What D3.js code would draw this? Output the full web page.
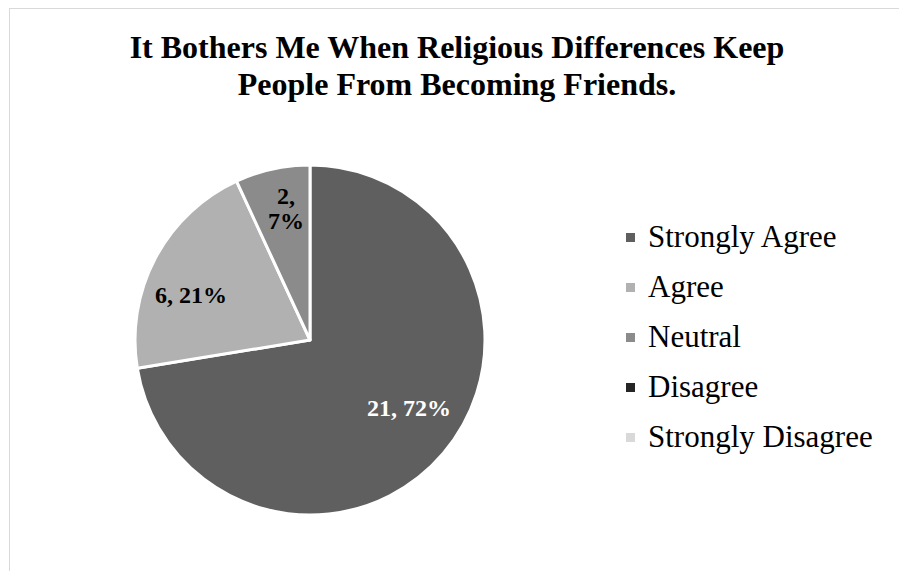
<!DOCTYPE html>
<html><head><meta charset="utf-8">
<script src="https://cdn.jsdelivr.net/npm/d3@7"></script>
<style>body{margin:0;background:#fff}svg{display:block}</style>
</head><body>
<script>
const categories = ["Strongly Agree","Agree","Neutral","Disagree","Strongly Disagree"];
const values = [21, 6, 2, 0, 0];
const colors = ["#5f5f5f","#b1b1b1","#8b8b8b","#262626","#d9d9d9"];
const titleLines = ["It Bothers Me When Religious Differences Keep","People From Becoming Friends."];

const W = 899, H = 571;
const svg = d3.select("body").append("svg").attr("width", W).attr("height", H);
svg.append("rect").attr("x", 9.5).attr("y", 8.5).attr("width", 900).attr("height", 600)
  .attr("fill", "#fff").attr("stroke", "#d9d9d9").attr("stroke-width", 1);

const font = "'Liberation Serif','Times New Roman',serif";
svg.append("g").selectAll("text").data(titleLines).join("text")
  .attr("x", 457).attr("y", (d,i) => 58 + i*37)
  .attr("text-anchor", "middle").attr("font-family", font).attr("font-weight", "bold")
  .attr("font-size", 32).attr("fill", "#000").text(d => d);

const cx = 310, cy = 340, r = 175;
const total = d3.sum(values);
const pie = d3.pie().sort(null).value(d => d.v);
const arcs = pie(categories.map((c,i) => ({c, v: values[i], col: colors[i]})));
const arc = d3.arc().innerRadius(0).outerRadius(r);
const g = svg.append("g").attr("transform", `translate(${cx},${cy})`);
g.selectAll("path").data(arcs.filter(a => a.data.v > 0)).join("path")
  .attr("d", arc).attr("fill", d => d.data.col).attr("stroke", "#fff").attr("stroke-width", 3).attr("stroke-linejoin","round");

const labs = g.selectAll("text").data(arcs.filter(a => a.data.v > 0)).join("text")
  .attr("font-family", font).attr("font-weight", "bold").attr("font-size", 24)
  .attr("text-anchor", "middle")
  .attr("fill", (d,i) => i === 0 ? "#fff" : "#000");
labs.each(function(d, i) {
  const pct = Math.round(d.data.v / total * 100) + "%";
  const t = d3.select(this);
  if (i === 0) { t.append("tspan").attr("x", 99).attr("y", 76).text(d.data.v + ", " + pct); }
  else if (i === 1) { t.append("tspan").attr("x", -119).attr("y", -37).text(d.data.v + ", " + pct); }
  else { t.append("tspan").attr("x", -24).attr("y", -136).text(d.data.v + ",");
         t.append("tspan").attr("x", -24).attr("y", -111).text(pct); }
});

const leg = svg.append("g").selectAll("g").data(categories).join("g")
  .attr("transform", (d,i) => `translate(626, ${238 + i*50})`);
leg.append("rect").attr("x", 0).attr("y", -5).attr("width", 9).attr("height", 9).attr("fill", (d,i) => colors[i]);
leg.append("text").attr("x", 22).attr("y", 9).attr("font-family", font).attr("font-size", 31)
  .attr("fill", "#000").text(d => d);
</script>
</body></html>
